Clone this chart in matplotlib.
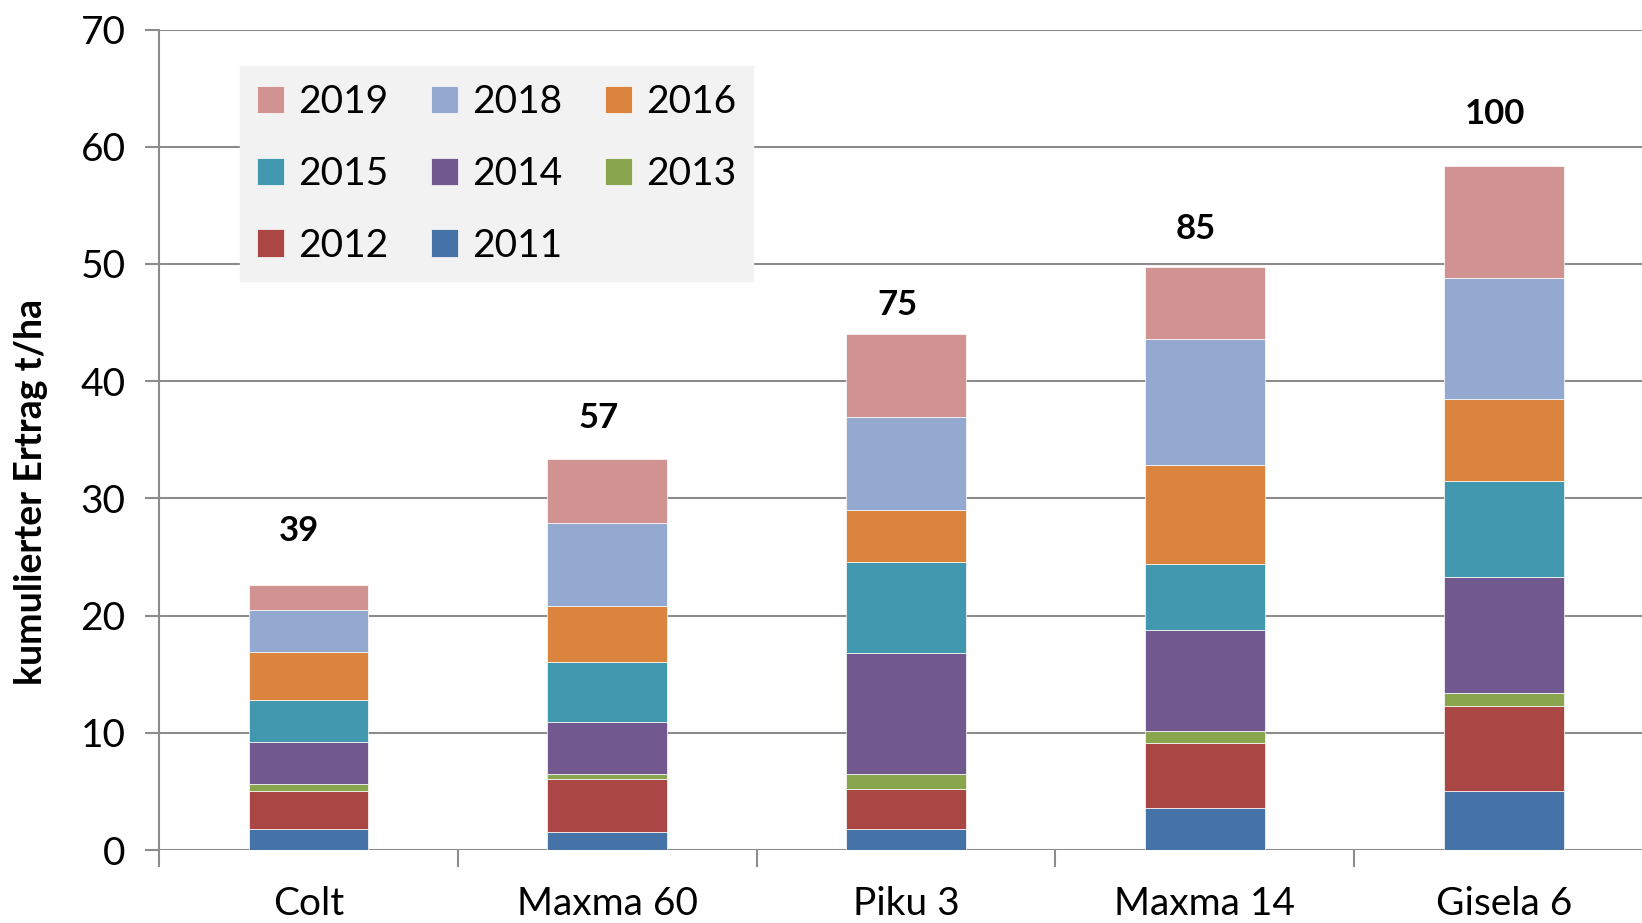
import matplotlib.pyplot as plt
import numpy as np

# cumulative yield per rootstock, t/ha
sorten = ['Colt', 'Maxma 60', 'Piku 3', 'Maxma 14', 'Gisela 6']
jahre = ['2011', '2012', '2013', '2014', '2015', '2016', '2018', '2019']
y2011 = [1.76, 1.53, 1.76, 3.57, 5.04]
y2012 = [3.27, 4.52, 3.45, 5.55, 7.27]
y2013 = [0.57, 0.46, 1.30, 1.05, 1.05]
y2014 = [3.63, 4.40, 10.34, 8.61, 9.92]
y2015 = [3.55, 5.17, 7.73, 5.59, 8.19]
y2016 = [4.12, 4.77, 4.41, 8.49, 6.98]
y2018 = [3.58, 7.05, 7.94, 10.71, 10.37]
y2019 = [2.13, 5.50, 7.06, 6.13, 9.54]
relativ = ['39', '57', '75', '85', '100']

farben = ['#4572A7', '#AA4643', '#89A54E', '#71588F', '#4198AF', '#DB843D', '#93A9CF', '#D19392']

plt.rcParams['font.family'] = ['Lato', 'DejaVu Sans']

fig = plt.figure(figsize=(16.42, 9.23), dpi=100)
ax = fig.add_axes([0.0968, 0.079, 0.91, 0.889])

x = np.arange(len(sorten))
serien = [y2011, y2012, y2013, y2014, y2015, y2016, y2018, y2019]
unten = np.zeros(len(sorten))
handles = {}
for jahr, werte, f in zip(jahre, serien, farben):
    b = ax.bar(x, werte, 0.4, bottom=unten, color=f, edgecolor='white', linewidth=0.5, zorder=3, label=jahr)
    handles[jahr] = b
    unten = unten + np.array(werte)

# relative yield labels above the bars
abstand = [4.6, 3.5, 2.5, 3.3, 4.4]
for xi, top, txt, d in zip(x, unten, relativ, abstand):
    ax.text(xi - 0.03, top + d, txt, ha='center', va='center', fontsize=25, fontweight='bold')

ax.set_ylim(0, 70)
ax.set_xlim(-0.5, 4.5)
ax.set_yticks(range(0, 71, 10))
ax.grid(axis='y', color='#8c8c8c', linewidth=1.5, zorder=0)
ax.set_axisbelow(True)
for s in ['top', 'right', 'bottom']:
    ax.spines[s].set_visible(False)
ax.spines['left'].set_color('#8c8c8c')
ax.spines['left'].set_linewidth(1.5)

# category separators as ticks
ax.set_xticks(np.arange(-0.5, 5, 1))
ax.set_xticklabels([])
ax.set_xticks(x, minor=True)
ax.set_xticklabels(sorten, minor=True, fontsize=28)
ax.tick_params(axis='x', which='major', length=12, width=1.5, color='#8c8c8c')
ax.tick_params(axis='x', which='minor', length=0, pad=26)
ax.tick_params(axis='y', length=10, width=1.5, color='#8c8c8c', labelsize=28, pad=14)

ax.set_ylabel('kumulierter Ertrag t/ha', fontsize=27, fontweight='bold')
ax.yaxis.set_label_coords(-0.074, 0.436)

reihenfolge = ['2019', '2015', '2012', '2018', '2014', '2011', '2016', '2013']
leg = ax.legend([handles[j] for j in reihenfolge], reihenfolge, ncol=3, loc='upper left',
                bbox_to_anchor=(0.054, 0.955), borderaxespad=0, fontsize=28,
                frameon=True, fancybox=False, handlelength=0.7, handleheight=0.7,
                handletextpad=0.35, columnspacing=1.1, labelspacing=0.92,
                borderpad=0.45)
leg.get_frame().set_facecolor('#f2f2f2')
leg.get_frame().set_edgecolor('#f2f2f2')
leg.get_frame().set_alpha(1)

fig.savefig('out.png', dpi=100)
